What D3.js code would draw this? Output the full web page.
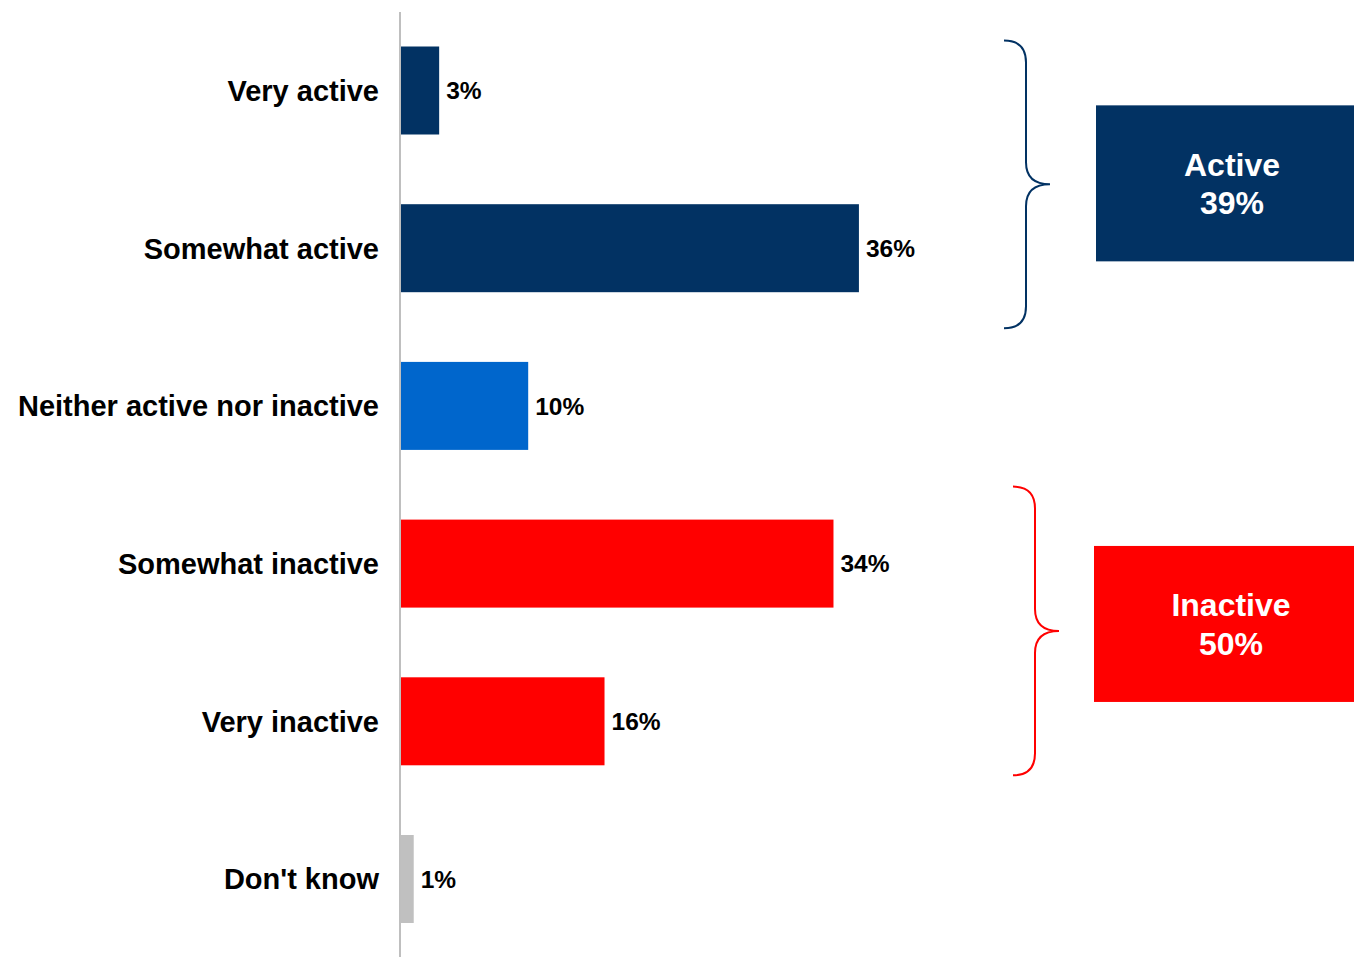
<!DOCTYPE html>
<html>
<head>
<meta charset="utf-8">
<script src="https://cdn.jsdelivr.net/npm/d3@7"></script>
<style>
  html, body { margin: 0; padding: 0; background: #fff; }
  svg text { font-family: "Liberation Sans", Arial, sans-serif; font-weight: bold; }
</style>
</head>
<body>
<svg id="chart" width="1354" height="957"></svg>
<script>
// Self-rated activity level, share of respondents
const categories = ["Very active", "Somewhat active", "Neither active nor inactive", "Somewhat inactive", "Very inactive", "Don't know"];
const values = [3, 36, 10, 34, 16, 1];
const barColors = ["#023263", "#023263", "#0066cc", "#ff0000", "#ff0000", "#c0c0c0"];

// Summary groups shown with braces at the right
const groupNames = ["Active", "Inactive"];
const groupValues = [39, 50];
const groupMembers = [["Very active", "Somewhat active"], ["Somewhat inactive", "Very inactive"]];
const groupColors = ["#023263", "#ff0000"];

const svg = d3.select("#chart");

const x = d3.scaleLinear().domain([0, 100]).range([401, 401 + 1272]);
const y = d3.scaleBand().domain(categories).range([11.65, 957.85])
  .paddingInner(0.442).paddingOuter(0.221);

// bars
svg.selectAll("rect.bar").data(categories).join("rect")
  .attr("class", "bar")
  .attr("x", x(0))
  .attr("y", d => y(d))
  .attr("width", (d, i) => x(values[i]) - x(0))
  .attr("height", y.bandwidth())
  .attr("fill", (d, i) => barColors[i]);

// vertical axis line
svg.append("line")
  .attr("x1", 400).attr("x2", 400)
  .attr("y1", 12).attr("y2", 957)
  .attr("stroke", "#bfbfbf").attr("stroke-width", 2);

// category labels
svg.selectAll("text.cat").data(categories).join("text")
  .attr("class", "cat")
  .attr("x", 379)
  .attr("y", d => y(d) + y.bandwidth() / 2)
  .attr("dy", "0.36em")
  .attr("text-anchor", "end")
  .attr("font-size", 29)
  .attr("fill", "#000")
  .text(d => d);

// value labels
svg.selectAll("text.val").data(categories).join("text")
  .attr("class", "val")
  .attr("x", (d, i) => x(values[i]) + 7)
  .attr("y", d => y(d) + y.bandwidth() / 2)
  .attr("dy", "0.36em")
  .attr("font-size", 24.5)
  .attr("fill", "#000")
  .text((d, i) => values[i] + "%");

// braces and summary boxes
const braceX = [1004, 1013];
const braceTopPad = [6, 33];
const braceBotPad = [36, 10];
const boxX = [1096, 1094];
const boxShift = [-1, -7];
groupNames.forEach((name, g) => {
  const members = groupMembers[g];
  const top = y(members[0]) - braceTopPad[g];
  const bot = y(members[members.length - 1]) + y.bandwidth() + braceBotPad[g];
  const mid = (top + bot) / 2;
  const x0 = braceX[g], xv = x0 + 22, xp = x0 + 46, r = 22;
  const p = d3.path();
  p.moveTo(x0, top);
  p.quadraticCurveTo(xv, top, xv, top + r);
  p.lineTo(xv, mid - r);
  p.quadraticCurveTo(xv, mid, xp, mid);
  p.quadraticCurveTo(xv, mid, xv, mid + r);
  p.lineTo(xv, bot - r);
  p.quadraticCurveTo(xv, bot, x0, bot);
  svg.append("path").attr("d", p.toString())
    .attr("fill", "none").attr("stroke", groupColors[g]).attr("stroke-width", 2);

  const bh = 156;
  const bx = boxX[g];
  const cy = mid + boxShift[g];
  const cx = (bx + 1354) / 2 + 7;
  svg.append("rect")
    .attr("x", bx).attr("y", cy - bh / 2)
    .attr("width", 1354 - bx).attr("height", bh)
    .attr("fill", groupColors[g]);
  const t = svg.append("text")
    .attr("x", cx)
    .attr("y", cy)
    .attr("text-anchor", "middle")
    .attr("font-size", 32)
    .attr("fill", "#fff");
  t.append("tspan").attr("x", cx).attr("dy", "-0.24em").text(name);
  t.append("tspan").attr("x", cx).attr("dy", "1.2em").text(groupValues[g] + "%");
});
</script>
</body>
</html>
